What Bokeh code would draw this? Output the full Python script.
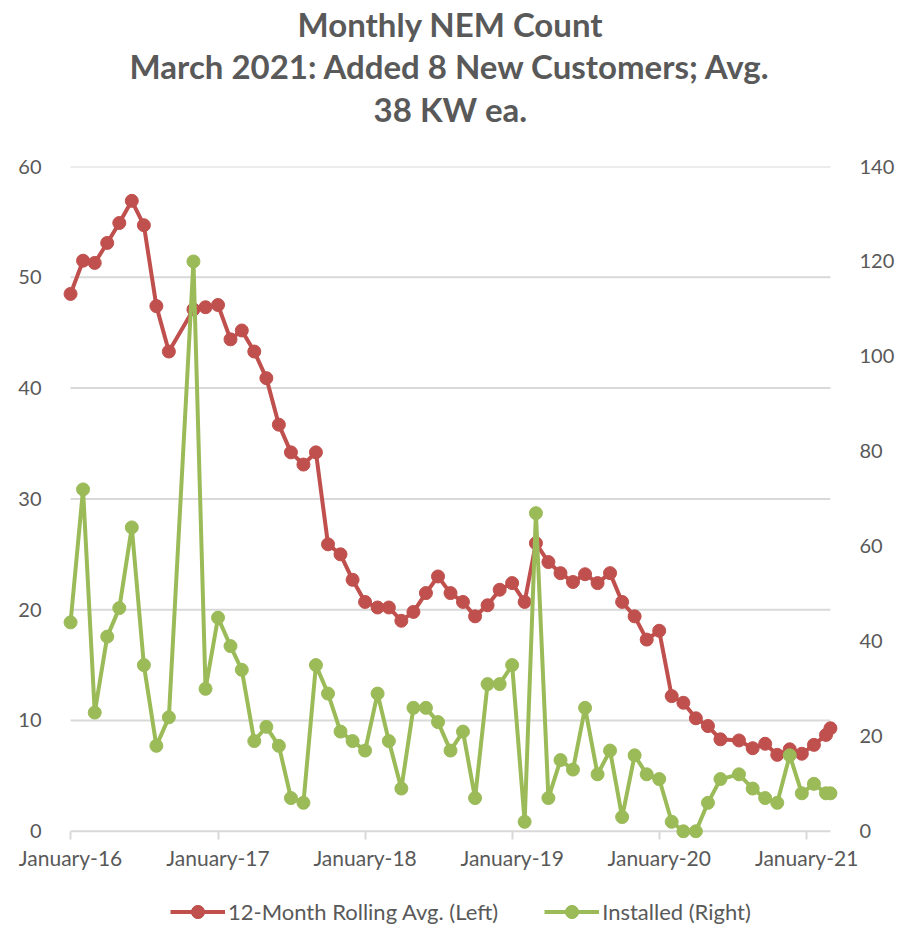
import pandas as pd
from bokeh.plotting import figure
from bokeh.layouts import column
from bokeh.models import (Range1d, LinearAxis, FixedTicker, DatetimeTickFormatter,
                          Legend, LegendItem, Title, ColumnDataSource)
from bokeh.embed import file_html
from bokeh.resources import INLINE

# ---------------- data ----------------
dates = [
    "2016-01-01", "2016-02-01", "2016-03-01", "2016-04-01", "2016-05-01", "2016-06-01",
    "2016-07-01", "2016-08-01", "2016-09-01", "2016-11-01", "2016-12-01",
    "2017-01-01", "2017-02-01", "2017-03-01", "2017-04-01", "2017-05-01", "2017-06-01",
    "2017-07-01", "2017-08-01", "2017-09-01", "2017-10-01", "2017-11-01", "2017-12-01",
    "2018-01-01", "2018-02-01", "2018-03-01", "2018-04-01", "2018-05-01", "2018-06-01",
    "2018-07-01", "2018-08-01", "2018-09-01", "2018-10-01", "2018-11-01", "2018-12-01",
    "2019-01-01", "2019-02-01", "2019-03-01", "2019-04-01", "2019-05-01", "2019-06-01",
    "2019-07-01", "2019-08-01", "2019-09-01", "2019-10-01", "2019-11-01", "2019-12-01",
    "2020-01-01", "2020-02-01", "2020-03-01", "2020-04-01", "2020-05-01", "2020-06-01",
    "2020-07-17", "2020-08-20", "2020-09-20", "2020-10-20", "2020-11-20", "2020-12-20",
    "2021-01-19", "2021-02-18", "2021-03-01",
]

rolling_avg = [
    48.5, 51.5, 51.3, 53.1, 54.9, 56.9, 54.7, 47.4, 43.3, 47.1, 47.3,
    47.5, 44.4, 45.2, 43.3, 40.9, 36.7, 34.2, 33.1, 34.2, 25.9, 25.0, 22.7,
    20.7, 20.2, 20.2, 19.0, 19.8, 21.5, 23.0, 21.5, 20.7, 19.4, 20.4, 21.8,
    22.4, 20.7, 26.0, 24.3, 23.3, 22.5, 23.2, 22.4, 23.3, 20.7, 19.4, 17.3,
    18.1, 12.2, 11.6, 10.2, 9.5, 8.3, 8.2, 7.5, 7.9, 6.9, 7.4, 7.0,
    7.8, 8.7, 9.3,
]

installed = [
    44, 72, 25, 41, 47, 64, 35, 18, 24, 120, 30,
    45, 39, 34, 19, 22, 18, 7, 6, 35, 29, 21, 19,
    17, 29, 19, 9, 26, 26, 23, 17, 21, 7, 31, 31,
    35, 2, 67, 7, 15, 13, 26, 12, 17, 3, 16, 12,
    11, 2, 0, 0, 6, 11, 12, 9, 7, 6, 16, 8,
    10, 8, 8,
]

axis_start = "2016-01-01"
axis_end = "2021-03-01"
year_ticks = ["2016-01-01", "2017-01-01", "2018-01-01", "2019-01-01", "2020-01-01", "2021-01-01"]
left_ticks = [0, 10, 20, 30, 40, 50, 60]
right_ticks = [0, 20, 40, 60, 80, 100, 120, 140]

title_lines = ["Monthly NEM Count", "March 2021: Added 8 New Customers; Avg.", "38 KW ea."]
series_names = ["12-Month Rolling Avg. (Left)", "Installed (Right)"]

# ---------------- styling ----------------
RED = "#C0504D"
GREEN = "#9BBB59"
TXT = "#595959"
GRID = "#D9D9D9"
FONT = "Lato"

x0 = pd.Timestamp(axis_start)
x1 = pd.Timestamp(axis_end)
pad = pd.Timedelta(days=20)      # room so edge markers are not clipped
ypad = 0.65                      # same, below the zero line (left units)
left_max = left_ticks[-1]
right_max = right_ticks[-1]

src = ColumnDataSource(dict(x=pd.to_datetime(dates), avg=rolling_avg, inst=installed))

W, H1, H2 = 897, 893, 36
p = figure(width=W, height=H1, x_axis_type="datetime",
           x_range=Range1d(x0 - pad, x1 + pad),
           y_range=Range1d(-ypad, left_max), output_backend="svg", toolbar_location=None,
           title=None,
           min_border_left=62, min_border_right=W - 843, min_border_top=166,
           min_border_bottom=H1 - 838)
p.extra_y_ranges = {"right": Range1d(-ypad * right_max / left_max, right_max)}
p.outline_line_color = None
p.background_fill_color = "white"
p.border_fill_color = "white"

xa = p.xaxis[0]
ya = p.yaxis[0]

# gap between plot and the title block (a blank axis used as spacer: one white
# tick at the axis start, no visible label), then the title lines (innermost first)
gap = LinearAxis(ticker=FixedTicker(ticks=[x0.value / 1e6]), axis_line_color=None,
                 major_tick_line_color="white", minor_tick_line_color=None,
                 major_tick_out=37, major_tick_in=0, minor_tick_out=0,
                 major_label_standoff=0, major_label_text_color=None,
                 major_label_text_font_size="1px")
p.add_layout(gap, "above")
title_standoffs = [0, 0, 2]
for t, so in reversed(list(zip(title_lines, title_standoffs))):
    p.add_layout(Title(text=t, align="center", text_font_size="33px", text_font=FONT,
                       text_font_style="bold", text_color=TXT, standoff=so), "above")

# horizontal gridlines spanning the date axis only
p.xgrid.visible = False
p.ygrid.visible = False
p.segment(x0=[x0] * len(left_ticks), x1=[x1] * len(left_ticks), y0=left_ticks, y1=left_ticks,
          line_color=GRID, line_width=2, level="underlay")

# x axis
xa.ticker = FixedTicker(ticks=[pd.Timestamp(d).value / 1e6 for d in year_ticks])
fmt = "%B-%y"
xa.formatter = DatetimeTickFormatter(years=fmt, months=fmt, days=fmt, hours=fmt,
                                     minutes=fmt, seconds=fmt, milliseconds=fmt,
                                     microseconds=fmt, minsec=fmt, hourmin=fmt)
xa.axis_line_color = None
xa.major_tick_line_color = GRID
xa.major_tick_line_width = 2
xa.major_tick_out = 1
xa.major_tick_in = 7
xa.minor_tick_line_color = None
xa.major_label_text_font = FONT
xa.major_label_text_font_size = "21px"
xa.major_label_text_color = TXT
xa.major_label_standoff = 5

# left axis
ya.ticker = FixedTicker(ticks=left_ticks)
ya.axis_line_color = None
ya.major_tick_line_color = None
ya.minor_tick_line_color = None
ya.major_label_text_font = FONT
ya.major_label_text_font_size = "20px"
ya.major_label_text_color = TXT
ya.major_label_standoff = 15

# right axis
ra = LinearAxis(y_range_name="right", ticker=FixedTicker(ticks=right_ticks))
ra.axis_line_color = None
ra.major_tick_line_color = None
ra.minor_tick_line_color = None
ra.major_label_text_font = FONT
ra.major_label_text_font_size = "20px"
ra.major_label_text_color = TXT
ra.major_label_standoff = 15
p.add_layout(ra, "right")

# series
line_kw = dict(line_width=4)
r1 = p.line("x", "avg", source=src, line_color=RED, **line_kw)
c1 = p.scatter("x", "avg", source=src, size=13, fill_color=RED, line_color=RED)
r2 = p.line("x", "inst", source=src, y_range_name="right", line_color=GREEN, **line_kw)
c2 = p.scatter("x", "inst", source=src, y_range_name="right", size=13,
               fill_color=GREEN, line_color=GREEN)

# ---------------- legend strip (same series, viewed outside their range) ----------------
lg = figure(width=W, height=H2, output_backend="svg", toolbar_location=None,
            x_range=Range1d(0, 1), y_range=Range1d(0, 1),
            x_axis_location=None, y_axis_location=None, min_border=0)
lg.outline_line_color = None
lg.grid.visible = False
k1 = lg.line("x", "avg", source=src, line_color=RED, **line_kw)
k2 = lg.scatter("x", "avg", source=src, size=13, fill_color=RED, line_color=RED)
k3 = lg.line("x", "inst", source=src, line_color=GREEN, **line_kw)
k4 = lg.scatter("x", "inst", source=src, size=13, fill_color=GREEN, line_color=GREEN)
legend = Legend(items=[LegendItem(label=series_names[0], renderers=[k1, k2]),
                       LegendItem(label=series_names[1], renderers=[k3, k4])],
                orientation="horizontal", location=(108, 1),
                glyph_width=55, glyph_height=33, label_standoff=3, spacing=46,
                padding=0, margin=0, border_line_color=None, background_fill_alpha=0,
                label_text_font=FONT, label_text_font_size="22px", label_text_color=TXT)
lg.add_layout(legend, "center")

open("out.html", "w").write(file_html(column(p, lg, spacing=0), INLINE))
